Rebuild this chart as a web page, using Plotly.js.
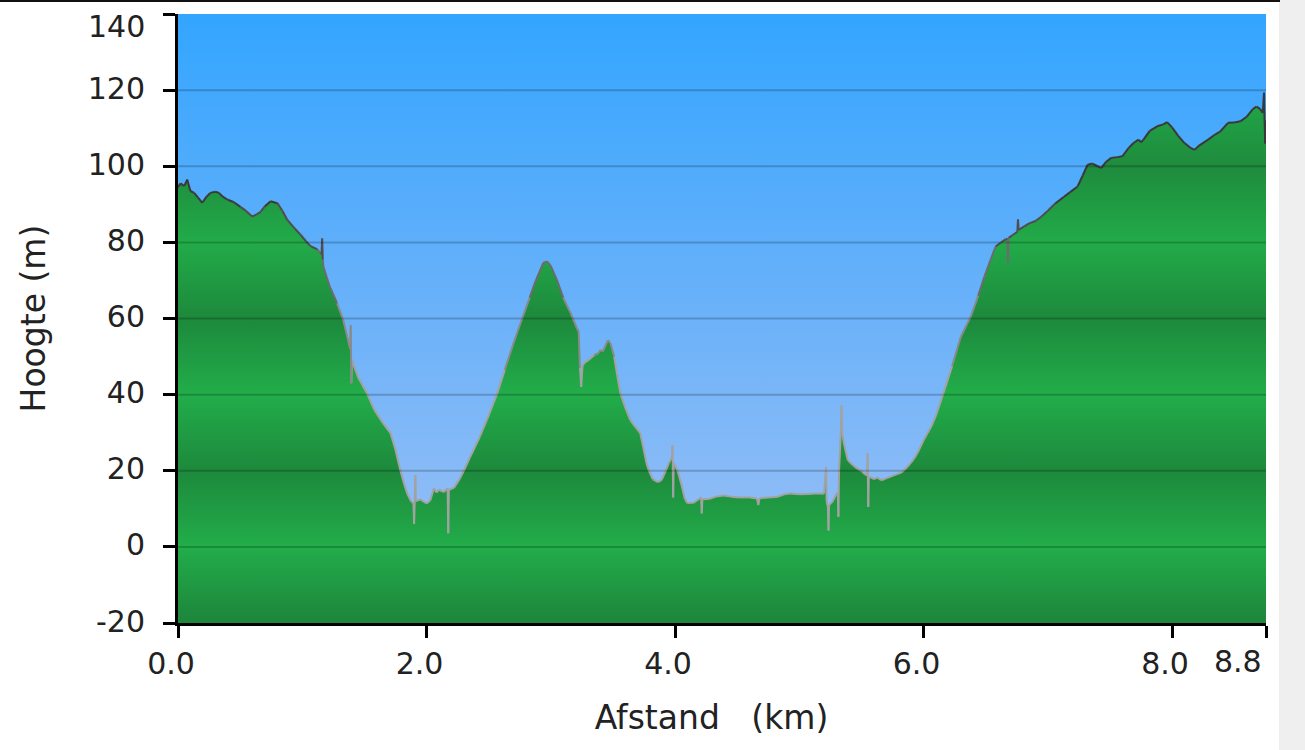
<!DOCTYPE html>
<html><head><meta charset="utf-8">
<script src="https://cdn.plot.ly/plotly-3.0.1.min.js"></script>
<style>
html,body{margin:0;padding:0;background:#efefef;width:1305px;height:750px;overflow:hidden;}
#chart{position:absolute;left:0;top:0;width:1279px;height:750px;background:#fff;}
#topline{position:absolute;left:0;top:0;width:1280px;height:2px;background:#111;}
</style></head><body>
<div id="chart"></div><div id="topline"></div>
<script>
// ---- data ----
const distKm = [0.00,0.02,0.05,0.074,0.10,0.13,0.16,0.195,0.23,0.26,0.30,0.33,0.36,0.40,0.447,0.50,0.55,0.597,0.63,0.664,0.70,0.745,0.80,0.84,0.88,0.93,0.986,1.03,1.067,1.12,1.155,1.16,1.165,1.17,1.22,1.28,1.33,1.36,1.385,1.39,1.395,1.40,1.45,1.52,1.58,1.65,1.71,1.75,1.79,1.82,1.845,1.875,1.895,1.90,1.905,1.91,1.915,1.95,2.00,2.03,2.06,2.08,2.10,2.14,2.17,2.175,2.18,2.22,2.27,2.30,2.35,2.43,2.50,2.57,2.63,2.70,2.77,2.83,2.88,2.94,2.97,3.00,3.05,3.10,3.16,3.21,3.225,3.235,3.245,3.255,3.27,3.30,3.35,3.38,3.40,3.42,3.46,3.48,3.51,3.535,3.56,3.60,3.64,3.68,3.72,3.745,3.77,3.79,3.82,3.86,3.89,3.91,3.95,3.975,3.98,3.985,3.99,4.02,4.05,4.08,4.10,4.15,4.19,4.21,4.215,4.22,4.27,4.33,4.39,4.45,4.52,4.60,4.66,4.67,4.68,4.75,4.83,4.88,4.93,5.00,5.07,5.13,5.20,5.215,5.22,5.23,5.235,5.24,5.27,5.30,5.31,5.315,5.32,5.335,5.34,5.345,5.36,5.39,5.43,5.47,5.50,5.53,5.545,5.55,5.555,5.56,5.60,5.63,5.66,5.70,5.76,5.82,5.87,5.92,5.95,6.00,6.06,6.10,6.16,6.23,6.30,6.38,6.44,6.49,6.54,6.58,6.62,6.66,6.675,6.68,6.685,6.72,6.755,6.76,6.765,6.81,6.85,6.90,6.95,7.00,7.06,7.13,7.18,7.24,7.28,7.32,7.36,7.40,7.43,7.47,7.51,7.56,7.60,7.65,7.69,7.73,7.75,7.77,7.82,7.88,7.93,7.96,8.00,8.05,8.10,8.15,8.18,8.22,8.29,8.34,8.39,8.45,8.50,8.55,8.60,8.65,8.68,8.71,8.73,8.74,8.745,8.75,8.756];
const hoogte = [94.5,95.5,94.8,96.5,93.5,93.0,91.8,90.4,92.0,93.0,93.3,93.0,92.0,91.2,90.6,89.4,88.2,86.8,87.3,88.0,89.5,90.8,90.3,88.3,85.9,84.0,82.0,80.3,79.0,78.2,76.8,81.0,75.5,73.6,68.5,64.0,59.6,55.5,52.0,58.3,43.0,49.0,44.5,40.4,36.0,32.5,29.9,25.5,20.0,16.5,14.0,12.0,11.5,6.0,12.0,18.8,12.0,12.5,11.4,12.2,15.4,14.3,15.0,14.4,15.4,3.6,15.0,15.5,18.0,20.0,23.5,29.0,34.5,40.4,46.5,53.5,60.0,65.5,70.0,74.6,75.0,73.8,70.1,65.5,61.4,57.5,56.5,47.0,42.0,47.5,48.3,49.0,50.4,50.8,51.7,51.4,54.3,53.5,50.0,45.0,40.4,36.5,33.3,31.5,29.9,26.0,22.0,20.0,17.8,17.0,17.5,18.8,22.0,23.5,26.7,13.0,22.0,20.0,16.5,12.5,11.5,11.6,12.5,13.0,8.8,12.5,12.6,13.2,13.5,13.2,13.0,13.0,12.7,11.0,12.8,13.0,13.2,13.8,14.0,13.8,13.9,14.0,14.0,21.0,12.0,10.5,4.3,11.0,12.0,14.0,14.2,7.9,20.0,30.7,37.2,30.0,27.0,22.8,21.5,20.5,20.0,19.0,18.8,24.6,10.5,18.5,17.8,18.2,17.5,18.0,18.8,19.5,21.0,23.0,24.6,28.0,31.5,34.5,40.4,47.5,55.2,60.5,66.0,71.0,75.5,78.9,79.9,80.8,81.0,74.6,81.2,82.0,82.8,86.0,83.3,84.2,85.0,85.6,86.8,88.3,90.2,92.0,93.2,94.7,97.5,100.4,100.7,100.0,99.5,101.2,102.2,102.4,102.6,104.8,106.1,107.0,106.3,107.0,109.3,110.5,111.0,111.6,110.2,108.0,106.1,104.8,104.3,105.5,107.0,108.2,109.2,111.4,111.5,111.8,113.0,115.0,115.7,115.0,114.0,119.3,111.4,106.0,112.0];
const yTickVals = [-20,0,20,40,60,80,100,120,140];
const yTickText = ['-20','0','20','40','60','80','100','120','140'];
const xTickVals = [0,2,4,6,8,distKm[distKm.length-1]];
const xTickText = ['0.0','2.0','4.0','6.0','8.0','8.8'];
const xTitle = 'Afstand\u00a0\u00a0\u00a0(km)\u00a0\u00a0\u200b';
const yTitle = 'Hoogte (m)';

// ---- styles ----
const lineShades = [[50,'#a2a2a2'],[65,'#8a8a8a'],[78,'#6c6c6c'],[90,'#4e4e4e'],[1e9,'#3a3a3a']];
const greenScale = [[0,'#1d853b'],[0.125,'#22ad4a'],[0.25,'#1d893c'],[0.375,'#22ad4a'],[0.5,'#1d893c'],[0.625,'#22ab49'],[0.75,'#1e8b3d'],[0.875,'#22aa49'],[1,'#1e8b3d']];
const tickFont = {family: 'DejaVu Sans, Verdana, sans-serif', size: 30, color: '#222'};

const yMin = yTickVals[0], yMax = yTickVals[yTickVals.length-1];
const xMax = distKm[distKm.length-1];
const lastX = xTickVals.length - 1, lastY = yTickVals.length - 1;

const traces = [];
traces.push({x: distKm, y: distKm.map(() => yMin), mode: 'lines', line: {width: 0}, hoverinfo: 'skip', showlegend: false});
traces.push({x: distKm, y: hoogte, mode: 'lines', fill: 'tonexty', line: {width: 0},
  fillgradient: {type: 'vertical', start: yMin, stop: yMax, colorscale: greenScale}, showlegend: false});

// outline split into shade bands by height
const bandX = lineShades.map(() => []), bandY = lineShades.map(() => []);
for (let i = 0; i < distKm.length - 1; i++) {
  const mid = (hoogte[i] + hoogte[i+1]) / 2;
  let b = lineShades.findIndex(s => mid < s[0]);
  bandX[b].push(distKm[i], distKm[i+1], null);
  bandY[b].push(hoogte[i], hoogte[i+1], null);
}
lineShades.forEach((s, b) => {
  traces.push({x: bandX[b], y: bandY[b], mode: 'lines', line: {color: s[1], width: 2}, connectgaps: false, showlegend: false});
});

const bgSvg = "<svg xmlns='http://www.w3.org/2000/svg' width='100' height='100' viewBox='0 0 100 100' preserveAspectRatio='none'><defs><linearGradient id='g' x1='0' y1='0' x2='0' y2='1'><stop offset='0' stop-color='#33a5ff'/><stop offset='0.5' stop-color='#6cb2f9'/><stop offset='1' stop-color='#a2c2f5'/></linearGradient></defs><rect width='100' height='100' fill='url(#g)'/></svg>";

// edge tick labels are nudged inward (as in the reference) via annotations
const edgeLabels = [
  {text: yTickText[lastY], xref: 'paper', x: 0, xanchor: 'right', xshift: -31,
   yref: 'y', y: yTickVals[lastY], yanchor: 'middle', yshift: -12, showarrow: false, font: tickFont},
  {text: xTickText[lastX], xref: 'x', x: xTickVals[lastX], xanchor: 'right', xshift: -2,
   yref: 'paper', y: 0, yanchor: 'middle', yshift: -38, showarrow: false, font: tickFont}
];

const layout = {
  width: 1279, height: 750,
  margin: {l: 178, r: 13, t: 14, b: 127},
  paper_bgcolor: '#ffffff', plot_bgcolor: 'rgba(0,0,0,0)',
  showlegend: false,
  font: {family: 'DejaVu Sans, Verdana, sans-serif', size: 30, color: '#222'},
  images: [{source: 'data:image/svg+xml;charset=utf-8,' + encodeURIComponent(bgSvg),
    xref: 'paper', yref: 'paper', x: 0, y: 1, sizex: 1, sizey: 1,
    xanchor: 'left', yanchor: 'top', sizing: 'stretch', layer: 'below'}],
  xaxis: {range: [0, xMax], tickmode: 'array', tickvals: xTickVals,
    ticktext: xTickText.map((t, i) => i === lastX ? '' : t),
    ticks: 'outside', ticklen: 12, tickwidth: 3, tickcolor: '#000',
    showline: true, linecolor: '#000', linewidth: 3, showgrid: false, zeroline: false,
    ticklabelstandoff: 0, ticklabelshift: -7, layer: 'above traces',
    tickfont: tickFont,
    title: {text: xTitle, standoff: 26, font: {size: 33, color: '#222'}}},
  yaxis: {range: [yMin, yMax], tickmode: 'array', tickvals: yTickVals,
    ticktext: yTickText.map((t, i) => i === lastY ? '' : t),
    ticks: 'outside', ticklen: 12, tickwidth: 3, tickcolor: '#000',
    showline: true, linecolor: '#000', linewidth: 3, showgrid: false, zeroline: false,
    ticklabelstandoff: 12, ticklabelshift: -2, layer: 'above traces',
    tickfont: tickFont,
    title: {text: yTitle, standoff: 33, font: {size: 33, color: '#222'}}},
  annotations: edgeLabels,
  shapes: yTickVals.slice(1, -1).map(v => ({type: 'line', xref: 'paper', x0: 0, x1: 1, yref: 'y', y0: v, y1: v,
    line: {color: 'rgba(0,0,0,0.2)', width: 2}, layer: 'above'}))
};

Plotly.newPlot('chart', traces, layout, {staticPlot: true, displayModeBar: false});
</script>
</body></html>
